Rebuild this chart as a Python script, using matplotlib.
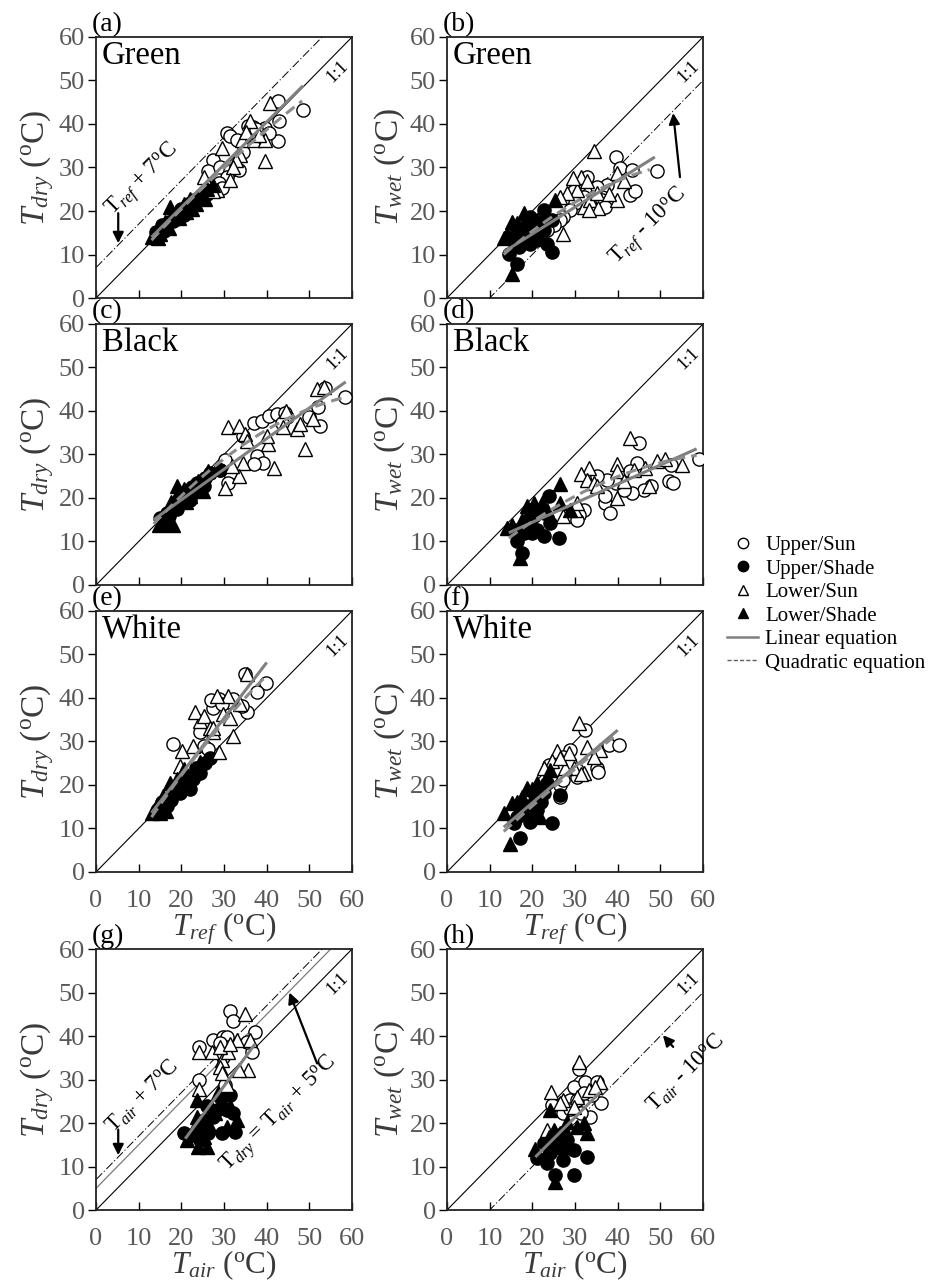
import matplotlib.pyplot as plt
import numpy as np
from matplotlib.lines import Line2D

plt.rcParams['font.family'] = 'Liberation Serif'
plt.rcParams['mathtext.fontset'] = 'custom'
plt.rcParams['mathtext.rm'] = 'Liberation Serif'
plt.rcParams['mathtext.it'] = 'Liberation Serif:italic'
plt.rcParams['mathtext.bf'] = 'Liberation Serif:bold'

# (x, y) readings per panel and leaf group
a_upper_sun = [(42.7,45.2),(48.4,43.3),(42.9,40.6),(42.6,36),(39.6,39.1),(35.5,39.5),(36.8,39.2),
               (37.5,38.8),(30.6,37.9),(31.4,37.2),(33,36.4),(27.5,31.8),(26.3,29.1),(29,30.2),
               (31.4,29.1),(33.4,29.5),(30.6,27.9),(28.7,26.4),(29.5,25.2),(34.5,33.5),(40.5,38)]
a_lower_sun = [(40.8,44.8),(29.5,34.5),(36.1,40.6),(34.1,36.4),(36.9,36.4),(39.6,36.4),(39.6,31.4),
               (33.8,32.9),(32.9,31.8),(32.2,30.2),(31.4,27.2),(28.3,24.8),(27.5,24.5),(25.2,27.9),
               (35.2,38.2),(38.2,37.5)]
a_upper_shade = [(14,15.2),(15,15.5),(15.5,16.8),(16.5,16.8),(17,17.5),(18,17.8),(18.5,18.5),
                 (19.5,19.2),(20,20.5),(21,20),(21.5,21.5),(22,21.2),(23,22.5),(23.5,22),
                 (24.5,22.8),(25,24),(26,23.8),(27,24.6),(16,15.5),(20.5,19)]
a_lower_shade = [(13.2,14),(14.5,13.8),(15,14.8),(16,16.3),(17,16),(18,18.5),(17.3,21),(19.5,18.5),
                 (20.5,21.5),(21,19.8),(22,22.8),(22.5,20.5),(23.5,21.5),(24.5,23.5),(25.5,22.8),
                 (26,25),(16.2,17.5),(27.5,26)]

b_upper_sun = [(39.5,32.5),(40.6,29.8),(43.4,29.5),(49.2,29.1),(43,23.7),(37.5,26),(35.2,25.6),
               (32.8,27.9),(30.9,26),(29.7,24.5),(32,23.3),(34.4,23.3),(36.3,22.5),(30.1,21.8),
               (28.9,20.2),(27.3,18.7),(26.6,17.9),(25,16.8),(23.4,15.6),(44,24.5),(37,21)]
b_lower_sun = [(34.4,33.7),(39.8,28.7),(41.4,26.8),(39.8,22.5),(31.3,27.9),(32.8,26.8),(30.5,24.8),
               (28.1,24.1),(26.6,23.3),(32,21),(33.6,22.5),(35.2,24.1),(35.5,20.6),(33.2,20.2),
               (27.3,14.8),(29.5,27.5),(38,24)]
b_upper_shade = [(22.7,20.2),(24.6,17.9),(19.5,18.7),(18.4,16.4),(16.4,15.6),(15.2,13.3),(14.5,10.2),
                 (16.4,7.9),(16.8,11.8),(21.1,13.3),(24.6,10.6),(23.4,12.5),(19.5,12.5),(22.7,15.6),
                 (18,14.5),(20.5,16)]
b_lower_shade = [(25.4,22.5),(15.2,17.5),(13.3,13.7),(19.5,17.5),(15.2,5.6),(22.7,19.4),(18,19.5),
                 (16.4,17.2),(14,14.8),(21,18),(17,14),(20,15.5)]

c_upper_sun = [(53.7,45.2),(52.1,40.8),(52.5,36.5),(36.9,37.3),(38.8,37.7),(40.6,38.8),(42.3,39.2),
               (44.3,39.6),(44.7,38.5),(43.5,37.3),(34.5,34.2),(37.7,29.6),(39.2,28.1),(36.9,27.7),
               (30.2,28.8),(31.4,25.8),(31,23.5),(29.1,26.5),(58.3,43.2),(50,38.5)]
c_lower_sun = [(51.7,45),(50.9,38.1),(49,31.2),(47,35.8),(47.8,36.9),(31,36.2),(33.4,36.5),(35,34.6),
               (35.3,33.1),(40.4,32.3),(40,34.2),(43.9,36.2),(41.6,26.9),(34.5,28.1),(33.4,25),
               (30.2,22.3),(31.8,27.3),(53.5,45.5),(44.5,40)]
c_upper_shade = [(15,15.5),(16.6,16.5),(17.5,17),(18.5,18),(19.7,19.6),(20.5,20.5),(21.3,21.2),
                 (22,19.5),(22.5,22.5),(23.6,23.5),(24,21.8),(25.2,22.7),(25.5,24.5),(26.7,25.8),
                 (29.1,26.5),(19,17.5),(17,15.8)]
c_lower_shade = [(14.8,13.8),(18.1,13.8),(16,15),(17.5,19),(18.9,22.7),(19.5,21.5),(20.5,22),(21,19),
                 (22,20.5),(23.5,22),(24,24),(25,21.5),(26.3,26.2),(16.5,14.5),(15.5,14.3)]

d_upper_sun = [(44.9,32.7),(44.5,28.1),(43,26.2),(47.7,22.7),(46.1,21.9),(43.4,21.2),(40.6,23.5),
               (41.4,21.9),(39.5,23.5),(37.5,24.2),(37.1,18.8),(38.3,16.5),(37.1,20.4),(35.2,25),
               (32,17.3),(30.9,16.2),(30.5,15),(52,24),(53,23.5),(59,29),(52.5,27.5)]
d_lower_sun = [(43,33.8),(33.2,26.9),(31.3,25.4),(32.8,24.2),(34.4,23.5),(35.2,22.7),(39.8,27.7),
               (39.8,26.2),(41.4,23.8),(43.8,26.5),(46.5,26.9),(47.3,22.7),(49.2,28.5),(39.8,20),
               (30.1,17.3),(27.3,15.8),(30.5,18.8),(51,29),(55,27.5)]
d_upper_shade = [(23.8,20.4),(26.2,10.8),(17.6,7.3),(16.4,10),(19.5,14.2),(21.1,12.7),(22.7,11.2),
                 (24.2,14.2),(18,11.9),(20.3,15.8),(22.7,16.5),(16.4,12.7),(20,12)]
d_lower_shade = [(26.6,23.1),(15.2,13.8),(17.6,15),(20.3,18.8),(19.5,17.3),(22.3,18.8),(26.6,18.8),
                 (17.2,6.2),(23.4,17.3),(28.9,17.3),(21.5,16.9),(18.8,18.1),(14,13)]

e_upper_sun = [(34.9,45.5),(39.8,43.5),(37.7,41.3),(35.3,36.7),(34.1,38.2),(32.2,39.8),(30.6,39),
               (28.7,39.8),(27.5,37.8),(26.9,39.6),(18.1,29.4),(24.4,32.1),(25.2,29),(26.3,28.2),
               (29.5,38.5)]
e_lower_sun = [(35.3,45.5),(32.2,31.3),(24.4,34.8),(23.3,36.7),(25.2,35.9),(29.8,36.3),(31,40.5),
               (28.3,40.5),(26.7,33.2),(27.5,32.1),(22.8,29),(20.1,27.8),(19.7,24.4),(28.7,27.5),
               (33.8,38.6),(31.4,35.5),(27.5,33)]
e_upper_shade = [(26.7,26.3),(24.4,22.8),(19.7,18.2),(16.6,15.2),(21.3,21.3),(22.8,21.3),(18.1,18.2),
                 (14.5,14.5),(15.5,16),(20.5,19.5),(23.5,24),(25.5,25),(17.5,16.5),(22,19)]
e_lower_shade = [(15,13.6),(13,13.6),(18.9,21.3),(17.3,20.5),(20.5,23.6),(24.4,25.2),(15.8,17.5),
                 (16.5,14),(19,18.5),(21.5,22),(23,23.5),(14,15),(18,19)]

f_upper_sun = [(32.4,32.7),(37.9,29.2),(40.2,29.2),(35.2,23.8),(28.9,28.1),(27.3,26.5),(23.8,24.6),
               (26.6,23.5),(30.5,23.5),(30.5,21.9),(26.6,20),(26.6,17.3),(27.3,21.2),(28.9,25),
               (35.5,23)]
f_lower_sun = [(30.9,34.2),(32.8,28.8),(35.9,28.1),(34.4,26.5),(32,22.7),(25.8,27.7),(28.5,27.3),
               (29.7,23.8),(24.6,25.4),(27.7,23.8),(26.6,26.2),(22.7,23.8),(31.5,22.5)]
f_upper_shade = [(24.6,11.2),(17.2,7.7),(19.5,11.5),(26.6,17.7),(23.4,20.4),(21.1,14.2),(18,15),
                 (22.7,18.1),(16.4,12.7),(20.3,18.1),(15.6,11.2),(19,13),(22,16)]
f_lower_shade = [(14.8,6.5),(13.3,13.5),(15.2,15.8),(18.8,19.2),(24.2,23.5),(21.9,12.7),(17.6,17.3),
                 (21.1,20.4),(19.5,15.8),(16.5,16),(20,19)]

g_upper_sun = [(31.3,45.7),(32.2,43.4),(24.2,37.5),(27.5,39),(29.7,39.8),(30.6,39.8),(37.3,40.9),
               (36.5,36.3),(30.6,37.5),(29.8,35.2),(24.2,29.8),(30.2,28.7),(35.3,38.6),(29,38.5)]
g_lower_sun = [(34.9,45.1),(24.2,36.3),(27.1,36.3),(29.5,34.4),(29.1,32.9),(33,39),(35.7,32.1),
               (33.4,32.1),(31,36.3),(24.2,27.9),(30.6,28.7),(29.1,37.5),(31.4,38.2),(36.1,39),
               (29.5,31.5)]
g_upper_shade = [(20.7,17.6),(29.5,17.6),(32.6,18),(29.1,26),(31.4,26.4),(27.5,21.4),(25.2,20.6),
                 (23.6,18.3),(26.3,17.6),(28.3,22.9),(30.6,22.9),(32.2,22.2),(22.4,17.2),(24.4,16.1),
                 (26,24)]
g_lower_shade = [(23.6,25.2),(23.6,21.4),(24,14.5),(26.1,14.5),(25.2,16.8),(27.9,22.2),(29.5,25.2),
                 (33,20.6),(30.6,19.1),(26.7,19.1),(21.3,16.1),(24.4,19.1),(28.5,27),(31.5,24)]

h_upper_sun = [(30.9,32.5),(29.7,28.3),(32.4,29.4),(35.2,29.4),(36.1,24.5),(33.6,21.4),(31.3,22.2),
               (27.3,22.2),(24.6,24.1),(28.9,25.2),(30.5,25.2),(24.2,16.4),(34,26.4),(32,26.8),
               (28.9,23.3)]
h_lower_sun = [(30.9,34),(24.4,27.1),(27.3,25.2),(30.5,26),(33.2,27.5),(35.9,29.4),(29.7,23.7),
               (23.4,18.3),(26.6,24.5),(34.8,28.3)]
h_upper_shade = [(21.1,11.9),(23.4,10.7),(25.4,8),(29.7,8),(32.8,12.2),(27.3,11.5),(25.8,14.5),
                 (27.3,17.6),(29.7,13.8),(24.2,13),(28.1,16.1),(22.7,15.3)]
h_lower_shade = [(20.7,14.1),(24.2,22.9),(25.4,6.5),(32.8,17.6),(32,19.9),(28.1,20.3),(30.5,19.1),
                 (26.6,17.6),(25,18.3),(23.8,16.8),(27.3,14.5),(22.7,12.2)]

# fitted equations: linear (slope, intercept, x start, x end)
lin_a = (0.98, 1.26, 13.0, 48.5)
lin_b = (0.616, 2.4, 13.3, 48.7)
lin_c = (0.704, 5.5, 13.5, 58.5)
lin_d = (0.4386, 5.64, 14.5, 58.5)
lin_e = (1.28, -3.05, 13.0, 40.0)
lin_f = (0.835, -0.8, 13.3, 40.0)
lin_g = (1.33, -11.4, 20.9, 37.3)
lin_h = (0.98, -8.1, 20.7, 35.9)
# quadratic (a, b, c, x start, x end)
quad_a = (-0.0041, 1.158, -1.06, 13.0, 48.3)
quad_b = (-0.00848, 1.0858, -2.94, 13.3, 47.5)
quad_c = (-0.00913, 1.306, -1.97, 13.5, 58.5)
quad_d = (-0.00658, 0.912, -1.04, 14.5, 58.5)
quad_e = (-0.00828, 1.646, -7.4, 13.0, 39.2)
quad_f = (-0.001676, 0.932, -2.8, 13.3, 39.0)

ticks = [0, 10, 20, 30, 40, 50, 60]
group_labels = ['Upper/Sun', 'Upper/Shade', 'Lower/Sun', 'Lower/Shade']

DEG = r'($^{\rm o}$C)'
TICK_COL = '#595959'
LABEL_COL = '#3a3a3a'
FIT_COL = '#808080'
DASHDOT = (0, (9, 2.5, 1.2, 2.5))

fig = plt.figure(figsize=(9.49, 12.84), dpi=100)
col_left = [0.1012, 0.471]
row_bottom = [0.7679, 0.5444, 0.3209, 0.0576]
W, H = 0.2698, 0.2033


def scatter_groups(ax, groups):
    styles = [dict(marker='o', mfc='white', mec='k', ms=9.5),
              dict(marker='o', mfc='k', mec='k', ms=9.5),
              dict(marker='^', mfc='white', mec='k', ms=9.5),
              dict(marker='^', mfc='k', mec='k', ms=9.5)]
    for pts, st in zip(groups, styles):
        xs = [p[0] for p in pts]
        ys = [p[1] for p in pts]
        ax.plot(xs, ys, ls='', mew=1.0, zorder=3, **st)


def fits(ax, lin, quad):
    s, b, x0, x1 = lin
    xx = np.linspace(x0, x1, 50)
    ax.plot(xx, s * xx + b, color=FIT_COL, lw=2.2, zorder=5, solid_capstyle='butt')
    if quad is not None:
        qa, qb, qc, q0, q1 = quad
        xq = np.linspace(q0, q1, 80)
        ax.plot(xq, qa * xq ** 2 + qb * xq + qc, color='#8c8c8c', lw=2.2,
                ls=(0, (3.5, 2)), zorder=5)


def panel(ax, letter, name, ylab, xlab, groups, lin, quad):
    ax.set_xlim(0, 60)
    ax.set_ylim(0, 60)
    ax.set_xticks(ticks)
    ax.set_yticks(ticks)
    ax.tick_params(axis='x', direction='in', length=6, width=1, labelsize=19,
                   labelcolor=TICK_COL, pad=13, labelbottom=xlab is not None)
    ax.tick_params(axis='y', direction='out', length=6, width=1, labelsize=19,
                   labelcolor=TICK_COL, pad=2)
    for sp in ax.spines.values():
        sp.set_linewidth(1.3)
        sp.set_color('#222222')
    one = np.array([0, 60])
    ax.plot(one, one, color='k', lw=0.8, zorder=2)
    ax.text(56.5, 52.0, '1:1', rotation=45, fontsize=13, ha='center', va='center',
            rotation_mode='anchor')
    ax.text(-0.015, 1.0, '(%s)' % letter, transform=ax.transAxes, fontsize=20,
            ha='left', va='bottom')
    if name:
        ax.text(0.022, 0.985, name, transform=ax.transAxes, fontsize=23.5,
                ha='left', va='top')
    ax.set_ylabel(ylab, fontsize=24, color=LABEL_COL, labelpad=2)
    if xlab is not None:
        ax.set_xlabel(xlab, fontsize=22.5, color=LABEL_COL, labelpad=-1)
    scatter_groups(ax, groups)
    fits(ax, lin, quad)


def arrow(ax, start, end):
    ax.annotate('', xy=end, xytext=start,
                arrowprops=dict(arrowstyle='-|>', color='k', lw=1.6,
                                mutation_scale=16, shrinkA=0, shrinkB=0))


ydry = r'$T_{dry}$ ' + DEG
ywet = r'$T_{wet}$ ' + DEG
xref = r'$T_{ref}$ ' + DEG
xair = r'$T_{air}$ ' + DEG
x60 = np.array([0, 60])

axes = {}
for key, c, r in [('a', 0, 0), ('b', 1, 0), ('c', 0, 1), ('d', 1, 1),
                  ('e', 0, 2), ('f', 1, 2), ('g', 0, 3), ('h', 1, 3)]:
    axes[key] = fig.add_axes([col_left[c], row_bottom[r], W, H])

panel(axes['a'], 'a', 'Green', ydry, None,
      [a_upper_sun, a_upper_shade, a_lower_sun, a_lower_shade], lin_a, quad_a)
panel(axes['b'], 'b', 'Green', ywet, None,
      [b_upper_sun, b_upper_shade, b_lower_sun, b_lower_shade], lin_b, quad_b)
panel(axes['c'], 'c', 'Black', ydry, None,
      [c_upper_sun, c_upper_shade, c_lower_sun, c_lower_shade], lin_c, quad_c)
panel(axes['d'], 'd', 'Black', ywet, None,
      [d_upper_sun, d_upper_shade, d_lower_sun, d_lower_shade], lin_d, quad_d)
panel(axes['e'], 'e', 'White', ydry, xref,
      [e_upper_sun, e_upper_shade, e_lower_sun, e_lower_shade], lin_e, quad_e)
panel(axes['f'], 'f', 'White', ywet, xref,
      [f_upper_sun, f_upper_shade, f_lower_sun, f_lower_shade], lin_f, quad_f)
panel(axes['g'], 'g', None, ydry, xair,
      [g_upper_sun, g_upper_shade, g_lower_sun, g_lower_shade], lin_g, None)
panel(axes['h'], 'h', None, ywet, xair,
      [h_upper_sun, h_upper_shade, h_lower_sun, h_lower_shade], lin_h, None)

# reference offset lines and their notes
ax = axes['a']
ax.plot(x60, x60 + 7, color='k', lw=0.7, ls=DASHDOT, zorder=2)
ax.text(11, 27, r'T$_{ref}$ + 7$^{\rm o}$C', rotation=45, fontsize=16.5,
        ha='center', va='center', rotation_mode='anchor')
arrow(ax, (5.2, 19.5), (5.2, 12.6))

ax = axes['b']
ax.plot(x60, x60 - 10, color='k', lw=0.7, ls=DASHDOT, zorder=2)
ax.text(47.5, 16.3, r'T$_{ref}$ - 10$^{\rm o}$C', rotation=45, fontsize=16.5,
        ha='center', va='center', rotation_mode='anchor')
arrow(ax, (54.6, 27.8), (53.0, 42.5))

ax = axes['g']
ax.plot(x60, x60 + 7, color='k', lw=0.7, ls=DASHDOT, zorder=2)
ax.plot(x60, x60 + 5, color='#7a7a7a', lw=0.9, zorder=2)
ax.text(11, 26, r'T$_{air}$ + 7$^{\rm o}$C', rotation=45, fontsize=16.5,
        ha='center', va='center', rotation_mode='anchor')
arrow(ax, (5.2, 18.5), (5.2, 12.6))
ax.text(43.0, 22.0, r'T$_{dry}$ = T$_{air}$ + 5$^{\rm o}$C', rotation=45, fontsize=16.5,
        ha='center', va='center', rotation_mode='anchor')
arrow(ax, (51.8, 33.7), (45.3, 50.0))

ax = axes['h']
ax.plot(x60, x60 - 10, color='k', lw=0.7, ls=DASHDOT, zorder=2)
ax.text(56.0, 31.5, r'T$_{air}$ - 10$^{\rm o}$C', rotation=45, fontsize=16.5,
        ha='center', va='center', rotation_mode='anchor')
arrow(ax, (53.0, 37.5), (50.6, 40.2))

handles = [Line2D([], [], ls='', marker='o', mfc='white', mec='k', ms=7.5),
           Line2D([], [], ls='', marker='o', mfc='k', mec='k', ms=7.5),
           Line2D([], [], ls='', marker='^', mfc='white', mec='k', ms=6.5),
           Line2D([], [], ls='', marker='^', mfc='k', mec='k', ms=6.5),
           Line2D([], [], color=FIT_COL, lw=1.8),
           Line2D([], [], color='#606060', lw=1.0, ls=(0, (3, 1.5)))]
fig.legend(handles, group_labels + ['Linear equation', 'Quadratic equation'],
           loc='center left', bbox_to_anchor=(0.766, 0.5295), frameon=False,
           fontsize=15, handlelength=1.5, handletextpad=0.35, labelspacing=0.19,
           borderpad=0, borderaxespad=0)

fig.savefig('out.png', dpi=100)
